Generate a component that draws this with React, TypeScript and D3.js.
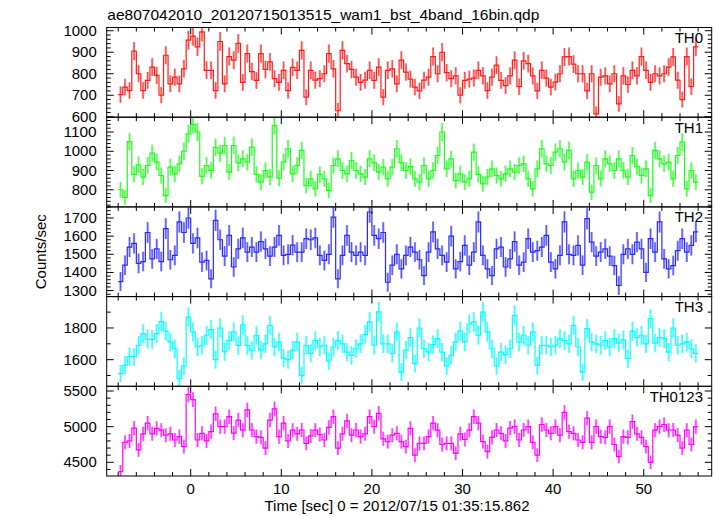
import React from "react";
import * as d3 from "d3";

const TITLE = "ae807042010_20120715013515_wam1_bst_4band_16bin.qdp";
const X_LABEL = "Time [sec] 0 = 2012/07/15 01:35:15.862";
const Y_LABEL = "Counts/sec";
const BANDS = ["TH0", "TH1", "TH2", "TH3", "TH0123"];
const COLORS = ["#ff1a1a", "#1aff1a", "#2a2aff", "#00ffff", "#ff00ff"];
const BIN_START = -8;
const BIN_WIDTH = 0.5;

const TH0 = [
  703, 738, 722, 905, 800, 722, 769, 831, 792, 700, 886, 753, 784, 753, 823, 956,
  975, 925, 995, 816, 816, 722, 950, 753, 880, 863, 941, 760, 894, 810, 769, 894,
  820, 855, 777, 760, 816, 722, 830, 816, 909, 691, 816, 770, 777, 800, 894, 823,
  628, 909, 847, 820, 784, 760, 770, 816, 769, 831, 691, 816, 823, 753, 863, 808,
  775, 738, 720, 770, 784, 880, 800, 900, 805, 777, 790, 700, 769, 775, 780, 816,
  790, 722, 784, 840, 769, 745, 790, 863, 740, 860, 847, 790, 720, 816, 780, 738,
  761, 800, 878, 880, 845, 800, 800, 720, 800, 613, 784, 790, 753, 800, 660, 790,
  750, 816, 790, 880, 816, 760, 800, 790, 800, 831, 878, 770, 680, 880, 740, 925,
];
const TH1 = [
  800, 760, 1050, 880, 930, 866, 926, 990, 944, 874, 770, 918, 883, 935, 1000, 1090,
  1140, 1100, 870, 926, 900, 1020, 990, 1030, 892, 1030, 940, 961, 944, 1022, 880, 840,
  900, 866, 1135, 860, 944, 1013, 883, 926, 1005, 822, 857, 805, 880, 857, 796, 926,
  961, 900, 883, 952, 900, 883, 866, 961, 940, 892, 918, 857, 918, 1013, 940, 900,
  920, 857, 840, 926, 857, 900, 978, 1100, 909, 960, 848, 883, 840, 857, 996, 880,
  831, 866, 909, 874, 857, 883, 909, 892, 926, 935, 857, 805, 909, 1013, 935, 926,
  996, 1013, 944, 1005, 857, 900, 866, 944, 787, 926, 857, 961, 935, 900, 961, 900,
  866, 978, 920, 874, 909, 770, 1005, 961, 935, 944, 857, 978, 1048, 805, 900, 840,
];
const TH2 = [
  1350, 1440, 1540, 1560, 1450, 1460, 1620, 1475, 1530, 1460, 1641, 1470, 1494, 1678, 1620, 1700,
  1560, 1590, 1457, 1466, 1365, 1687, 1580, 1490, 1604, 1430, 1530, 1590, 1512, 1540, 1512, 1570,
  1530, 1490, 1540, 1604, 1494, 1500, 1550, 1512, 1512, 1586, 1580, 1590, 1494, 1466, 1500, 1705,
  1365, 1494, 1604, 1512, 1494, 1512, 1494, 1733, 1604, 1586, 1620, 1346, 1440, 1500, 1420, 1494,
  1540, 1512, 1470, 1383, 1512, 1623, 1530, 1494, 1457, 1600, 1420, 1460, 1549, 1440, 1512, 1678,
  1494, 1420, 1383, 1530, 1540, 1430, 1475, 1570, 1440, 1457, 1586, 1512, 1520, 1540, 1604, 1457,
  1420, 1494, 1678, 1500, 1494, 1549, 1440, 1696, 1567, 1490, 1512, 1530, 1490, 1438, 1328, 1500,
  1530, 1500, 1567, 1530, 1400, 1586, 1512, 1678, 1475, 1420, 1438, 1520, 1586, 1512, 1549, 1623,
];
const TH3 = [
  1512, 1565, 1620, 1617, 1691, 1764, 1730, 1728, 1764, 1840, 1780, 1712, 1669, 1480, 1560, 1869,
  1775, 1680, 1691, 1754, 1790, 1600, 1800, 1650, 1720, 1775, 1690, 1820, 1690, 1659, 1754, 1660,
  1700, 1817, 1680, 1712, 1610, 1600, 1660, 1712, 1501, 1691, 1640, 1720, 1680, 1691, 1590, 1680,
  1720, 1700, 1648, 1627, 1669, 1700, 1760, 1838, 1691, 1901, 1700, 1700, 1640, 1775, 1520, 1660,
  1740, 1575, 1800, 1669, 1648, 1695, 1733, 1648, 1560, 1627, 1712, 1780, 1712, 1825, 1838, 1754,
  1900, 1775, 1669, 1560, 1648, 1630, 1669, 1880, 1710, 1754, 1691, 1775, 1564, 1690, 1691, 1680,
  1691, 1733, 1720, 1700, 1817, 1680, 1522, 1796, 1712, 1700, 1691, 1720, 1680, 1733, 1705, 1725,
  1606, 1780, 1740, 1754, 1700, 1859, 1705, 1740, 1733, 1648, 1800, 1691, 1700, 1712, 1669, 1640,
];
const TH0123 = [
  4369, 4780, 4800, 4980, 4673, 4900, 5050, 4900, 4977, 4950, 4880, 4900, 4813, 4860, 4720, 5450,
  5380, 4813, 4907, 4800, 4930, 5180, 5000, 5000, 5140, 4910, 5093, 4950, 5234, 4953, 4860, 4850,
  4700, 5093, 5250, 4860, 5050, 4800, 4950, 4900, 4953, 4766, 4870, 4950, 4890, 4813, 4990, 5140,
  4700, 4900, 5080, 4880, 4953, 4860, 4900, 5140, 5000, 5187, 4830, 4790, 4880, 4907, 4790, 4720,
  4977, 4600, 4766, 4766, 4860, 5050, 4950, 4750, 4766, 4766, 4626, 4900, 4820, 4950, 5140, 5050,
  4790, 4650, 4850, 4953, 4907, 4800, 4980, 5000, 4813, 4953, 5000, 4780, 4600, 5030, 4953, 4907,
  5000, 4880, 5200, 4930, 4907, 4813, 4780, 5120, 4780, 5000, 4860, 4850, 5000, 4750, 4580, 4860,
  4850, 5070, 4900, 4850, 4720, 4500, 4950, 5000, 5030, 4950, 4953, 4880, 4700, 4950, 4750, 5000,
];
const SERIES = [TH0, TH1, TH2, TH3, TH0123];

const Y_DOMAINS = [
  [598, 1015],
  [711, 1177],
  [1267, 1761],
  [1432, 1998],
  [4308, 5566],
];
const Y_MAJOR = [
  [600, 700, 800, 900, 1000],
  [800, 900, 1000, 1100],
  [1300, 1400, 1500, 1600, 1700],
  [1600, 1800],
  [4500, 5000, 5500],
];
const Y_MINOR_STEP = [20, 20, 20, 100, 100];
const X_DOMAIN = [-9.27, 57.5];
const X_MAJOR = [0, 10, 20, 30, 40, 50];
const X_MINOR_STEP = 2;

const LEFT = 106.7;
const RIGHT = 711.7;
const TOP = 27.5;
const BOTTOM = 476;
const FONT = "'Liberation Sans', Arial, Helvetica, sans-serif";

export default function App() {
  const nPanels = SERIES.length;
  const panelH = (BOTTOM - TOP) / nPanels;
  const x = d3.scaleLinear().domain(X_DOMAIN).range([LEFT, RIGHT]);
  const xMinor = d3
    .range(Math.ceil(X_DOMAIN[0] / X_MINOR_STEP) * X_MINOR_STEP, X_DOMAIN[1], X_MINOR_STEP)
    .filter((t) => !X_MAJOR.includes(t));
  const MAJ = 7;
  const MIN = 4;

  const panels = SERIES.map((vals, p) => {
    const top = TOP + p * panelH;
    const bot = top + panelH;
    const y = d3.scaleLinear().domain(Y_DOMAINS[p]).range([bot, top]);
    const color = COLORS[p];
    const stepPts: [number, number][] = [];
    vals.forEach((v, i) => {
      const t0 = BIN_START + i * BIN_WIDTH;
      stepPts.push([x(t0), y(v)]);
      stepPts.push([x(t0 + BIN_WIDTH), y(v)]);
    });
    const line = d3.line();
    const [d0, d1] = Y_DOMAINS[p];
    const step = Y_MINOR_STEP[p];
    const yMinor = d3
      .range(Math.ceil(d0 / step) * step, d1, step)
      .filter((v) => !Y_MAJOR[p].includes(v));
    const clipId = `clip${p}`;
    return (
      <g key={p}>
        <defs>
          <clipPath id={clipId}>
            <rect x={LEFT} y={top} width={RIGHT - LEFT} height={panelH} />
          </clipPath>
        </defs>
        <g clipPath={`url(#${clipId})`}>
          {vals.map((v, i) => {
            const tc = BIN_START + (i + 0.5) * BIN_WIDTH;
            const err = Math.sqrt(v / BIN_WIDTH);
            return (
              <line
                key={i}
                x1={x(tc)}
                x2={x(tc)}
                y1={y(v - err)}
                y2={y(v + err)}
                stroke={color}
                strokeOpacity={0.5}
                strokeWidth={2.2}
              />
            );
          })}
          {vals.map((v, i) => {
            const tc = BIN_START + (i + 0.5) * BIN_WIDTH;
            const err = Math.sqrt(v / BIN_WIDTH);
            return (
              <line
                key={"c" + i}
                x1={x(tc)}
                x2={x(tc)}
                y1={y(v - err)}
                y2={y(v + err)}
                stroke={color}
                strokeOpacity={0.75}
                strokeWidth={0.8}
              />
            );
          })}
          <path d={line(stepPts) || ""} fill="none" stroke={color} strokeWidth={1.2} />
        </g>
        <rect x={LEFT} y={top} width={RIGHT - LEFT} height={panelH} fill="none" stroke="#000" strokeWidth={1} />
        {X_MAJOR.map((t) => (
          <g key={"xm" + t} stroke="#000" strokeWidth={1}>
            <line x1={x(t)} x2={x(t)} y1={top} y2={top + MAJ} />
            <line x1={x(t)} x2={x(t)} y1={bot} y2={bot - MAJ} />
          </g>
        ))}
        {xMinor.map((t) => (
          <g key={"xn" + t} stroke="#000" strokeWidth={1}>
            <line x1={x(t)} x2={x(t)} y1={top} y2={top + MIN} />
            <line x1={x(t)} x2={x(t)} y1={bot} y2={bot - MIN} />
          </g>
        ))}
        {Y_MAJOR[p].map((v) => (
          <g key={"ym" + v}>
            <line x1={LEFT} x2={LEFT + MAJ} y1={y(v)} y2={y(v)} stroke="#000" />
            <line x1={RIGHT} x2={RIGHT - MAJ} y1={y(v)} y2={y(v)} stroke="#000" />
            <text
              x={96.7}
              y={y(v)}
              dy="0.36em"
              textAnchor="end"
              fontSize={14}
              fontFamily={FONT}
              fill="#000"
              textLength={String(v).length * 8.3}
              lengthAdjust="spacingAndGlyphs"
            >
              {v}
            </text>
          </g>
        ))}
        {yMinor.map((v) => (
          <g key={"yn" + v} stroke="#000">
            <line x1={LEFT} x2={LEFT + MIN} y1={y(v)} y2={y(v)} />
            <line x1={RIGHT} x2={RIGHT - MIN} y1={y(v)} y2={y(v)} />
          </g>
        ))}
        <text x={703} y={top + 15.5} textAnchor="end" fontSize={15} fontFamily={FONT} fill="#000">
          {BANDS[p]}
        </text>
      </g>
    );
  });

  return (
    <svg
      width={717}
      height={516}
      style={{ position: "absolute", left: 0, top: 0, background: "#fff" }}
    >
      <rect x={0} y={0} width={717} height={516} fill="#fff" />
      <text x={107.3} y={19.5} fontSize={15} fontFamily={FONT} fill="#000" textLength={432} lengthAdjust="spacingAndGlyphs">
        {TITLE}
      </text>
      {panels}
      {X_MAJOR.map((t) => (
        <text key={"xl" + t} x={x(t)} y={493.5} textAnchor="middle" fontSize={15} fontFamily={FONT} fill="#000">
          {t}
        </text>
      ))}
      <text x={397} y={510.5} textAnchor="middle" fontSize={15} fontFamily={FONT} fill="#000">
        {X_LABEL}
      </text>
      <text
        transform={`translate(46, ${(TOP + BOTTOM) / 2}) rotate(-90)`}
        textAnchor="middle"
        fontSize={15}
        fontFamily={FONT}
        fill="#000"
      >
        {Y_LABEL}
      </text>
    </svg>
  );
}
